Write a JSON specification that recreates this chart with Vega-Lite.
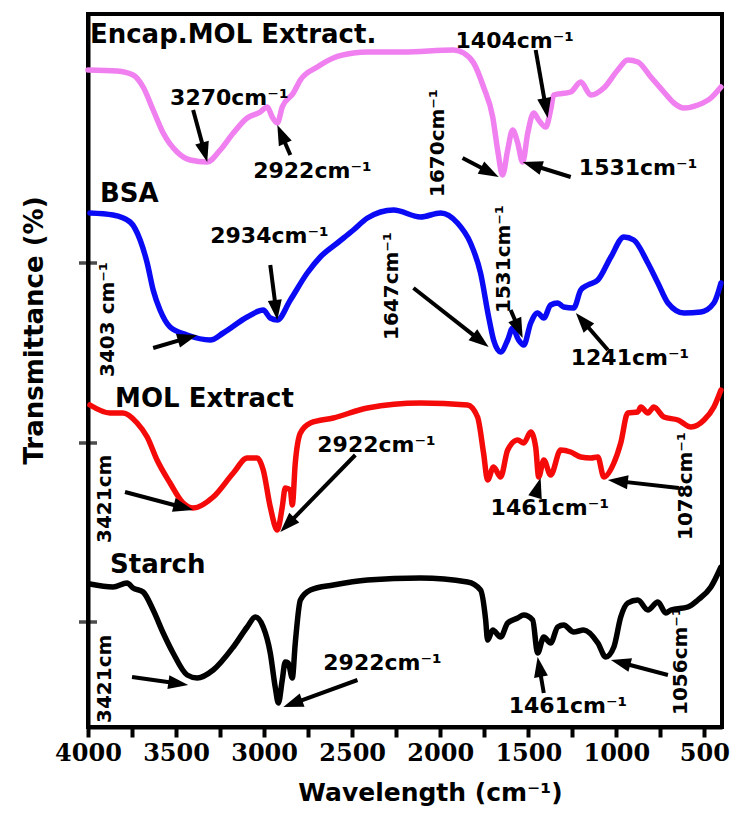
{
  "$schema": "https://vega.github.io/schema/vega-lite/v6.json",
  "width": 634,
  "height": 713,
  "autosize": {"type": "none"},
  "padding": {"left": 88, "top": 14, "right": 18, "bottom": 87},
  "background": "white",
  "config": {
    "view": {"stroke": "black", "strokeWidth": 4},
    "axis": {"grid": false, "domainColor": "black", "domainWidth": 4, "tickColor": "black"}
  },
  "datasets": {
    "spectra": [
      {"s":"Encap","wn":4000,"t":657},{"s":"Encap","wn":3835,"t":656},{"s":"Encap","wn":3744,"t":652},{"s":"Encap","wn":3687,"t":640},{"s":"Encap","wn":3630,"t":617},{"s":"Encap","wn":3573,"t":594},{"s":"Encap","wn":3494,"t":575},{"s":"Encap","wn":3420,"t":567},{"s":"Encap","wn":3323,"t":565},{"s":"Encap","wn":3249,"t":577},{"s":"Encap","wn":3175,"t":594},{"s":"Encap","wn":3096,"t":609},{"s":"Encap","wn":3022,"t":615},{"s":"Encap","wn":2982,"t":620},{"s":"Encap","wn":2954,"t":610},{"s":"Encap","wn":2925,"t":604},{"s":"Encap","wn":2897,"t":620},{"s":"Encap","wn":2834,"t":634},{"s":"Encap","wn":2794,"t":647},{"s":"Encap","wn":2698,"t":660},{"s":"Encap","wn":2607,"t":669},{"s":"Encap","wn":2493,"t":674},{"s":"Encap","wn":2413,"t":675},{"s":"Encap","wn":2209,"t":675},{"s":"Encap","wn":1924,"t":677},{"s":"Encap","wn":1867,"t":674},{"s":"Encap","wn":1810,"t":664},{"s":"Encap","wn":1754,"t":640},{"s":"Encap","wn":1702,"t":610},{"s":"Encap","wn":1674,"t":577},{"s":"Encap","wn":1646,"t":552},{"s":"Encap","wn":1617,"t":577},{"s":"Encap","wn":1589,"t":597},{"s":"Encap","wn":1560,"t":584},{"s":"Encap","wn":1532,"t":565},{"s":"Encap","wn":1503,"t":594},{"s":"Encap","wn":1469,"t":614},{"s":"Encap","wn":1441,"t":607},{"s":"Encap","wn":1401,"t":600},{"s":"Encap","wn":1373,"t":617},{"s":"Encap","wn":1356,"t":632},{"s":"Encap","wn":1259,"t":635},{"s":"Encap","wn":1202,"t":645},{"s":"Encap","wn":1145,"t":632},{"s":"Encap","wn":1071,"t":639},{"s":"Encap","wn":992,"t":657},{"s":"Encap","wn":935,"t":667},{"s":"Encap","wn":878,"t":665},{"s":"Encap","wn":804,"t":650},{"s":"Encap","wn":730,"t":635},{"s":"Encap","wn":673,"t":624},{"s":"Encap","wn":616,"t":619},{"s":"Encap","wn":537,"t":622},{"s":"Encap","wn":463,"t":629},{"s":"Encap","wn":406,"t":640},
      {"s":"BSA","wn":3989,"t":514},{"s":"BSA","wn":3858,"t":512},{"s":"BSA","wn":3761,"t":505},{"s":"BSA","wn":3704,"t":487},{"s":"BSA","wn":3664,"t":464},{"s":"BSA","wn":3630,"t":437},{"s":"BSA","wn":3591,"t":417},{"s":"BSA","wn":3534,"t":400},{"s":"BSA","wn":3437,"t":392},{"s":"BSA","wn":3306,"t":387},{"s":"BSA","wn":3232,"t":394},{"s":"BSA","wn":3096,"t":410},{"s":"BSA","wn":3005,"t":417},{"s":"BSA","wn":2965,"t":409},{"s":"BSA","wn":2925,"t":407},{"s":"BSA","wn":2851,"t":427},{"s":"BSA","wn":2755,"t":454},{"s":"BSA","wn":2681,"t":470},{"s":"BSA","wn":2584,"t":484},{"s":"BSA","wn":2493,"t":497},{"s":"BSA","wn":2413,"t":509},{"s":"BSA","wn":2265,"t":517},{"s":"BSA","wn":2112,"t":510},{"s":"BSA","wn":1998,"t":514},{"s":"BSA","wn":1902,"t":504},{"s":"BSA","wn":1828,"t":484},{"s":"BSA","wn":1771,"t":454},{"s":"BSA","wn":1725,"t":410},{"s":"BSA","wn":1697,"t":387},{"s":"BSA","wn":1657,"t":375},{"s":"BSA","wn":1617,"t":387},{"s":"BSA","wn":1589,"t":399},{"s":"BSA","wn":1555,"t":387},{"s":"BSA","wn":1526,"t":382},{"s":"BSA","wn":1486,"t":404},{"s":"BSA","wn":1447,"t":414},{"s":"BSA","wn":1412,"t":409},{"s":"BSA","wn":1373,"t":422},{"s":"BSA","wn":1333,"t":424},{"s":"BSA","wn":1299,"t":420},{"s":"BSA","wn":1242,"t":419},{"s":"BSA","wn":1202,"t":437},{"s":"BSA","wn":1162,"t":442},{"s":"BSA","wn":1105,"t":447},{"s":"BSA","wn":1031,"t":470},{"s":"BSA","wn":957,"t":490},{"s":"BSA","wn":901,"t":487},{"s":"BSA","wn":821,"t":464},{"s":"BSA","wn":764,"t":444},{"s":"BSA","wn":707,"t":424},{"s":"BSA","wn":616,"t":414},{"s":"BSA","wn":520,"t":415},{"s":"BSA","wn":446,"t":424},{"s":"BSA","wn":406,"t":444},
      {"s":"MOL","wn":3989,"t":322},{"s":"MOL","wn":3875,"t":314},{"s":"MOL","wn":3801,"t":314},{"s":"MOL","wn":3721,"t":304},{"s":"MOL","wn":3664,"t":290},{"s":"MOL","wn":3608,"t":267},{"s":"MOL","wn":3534,"t":244},{"s":"MOL","wn":3460,"t":224},{"s":"MOL","wn":3403,"t":219},{"s":"MOL","wn":3289,"t":230},{"s":"MOL","wn":3175,"t":254},{"s":"MOL","wn":3096,"t":269},{"s":"MOL","wn":3039,"t":269},{"s":"MOL","wn":3005,"t":257},{"s":"MOL","wn":2965,"t":220},{"s":"MOL","wn":2925,"t":197},{"s":"MOL","wn":2897,"t":220},{"s":"MOL","wn":2880,"t":239},{"s":"MOL","wn":2851,"t":237},{"s":"MOL","wn":2840,"t":222},{"s":"MOL","wn":2823,"t":264},{"s":"MOL","wn":2794,"t":294},{"s":"MOL","wn":2737,"t":304},{"s":"MOL","wn":2607,"t":309},{"s":"MOL","wn":2413,"t":319},{"s":"MOL","wn":2112,"t":324},{"s":"MOL","wn":1845,"t":322},{"s":"MOL","wn":1788,"t":310},{"s":"MOL","wn":1754,"t":274},{"s":"MOL","wn":1731,"t":247},{"s":"MOL","wn":1697,"t":260},{"s":"MOL","wn":1657,"t":250},{"s":"MOL","wn":1617,"t":277},{"s":"MOL","wn":1560,"t":287},{"s":"MOL","wn":1526,"t":284},{"s":"MOL","wn":1486,"t":295},{"s":"MOL","wn":1458,"t":280},{"s":"MOL","wn":1441,"t":250},{"s":"MOL","wn":1412,"t":267},{"s":"MOL","wn":1373,"t":252},{"s":"MOL","wn":1316,"t":277},{"s":"MOL","wn":1259,"t":275},{"s":"MOL","wn":1202,"t":270},{"s":"MOL","wn":1145,"t":269},{"s":"MOL","wn":1105,"t":270},{"s":"MOL","wn":1071,"t":250},{"s":"MOL","wn":1014,"t":264},{"s":"MOL","wn":975,"t":284},{"s":"MOL","wn":935,"t":314},{"s":"MOL","wn":878,"t":315},{"s":"MOL","wn":861,"t":320},{"s":"MOL","wn":821,"t":314},{"s":"MOL","wn":787,"t":320},{"s":"MOL","wn":730,"t":310},{"s":"MOL","wn":650,"t":307},{"s":"MOL","wn":576,"t":300},{"s":"MOL","wn":502,"t":307},{"s":"MOL","wn":446,"t":320},{"s":"MOL","wn":406,"t":337},
      {"s":"Starch","wn":3989,"t":143},{"s":"Starch","wn":3858,"t":140},{"s":"Starch","wn":3778,"t":144},{"s":"Starch","wn":3744,"t":139},{"s":"Starch","wn":3687,"t":135},{"s":"Starch","wn":3630,"t":117},{"s":"Starch","wn":3573,"t":94},{"s":"Starch","wn":3517,"t":74},{"s":"Starch","wn":3437,"t":52},{"s":"Starch","wn":3380,"t":49},{"s":"Starch","wn":3289,"t":57},{"s":"Starch","wn":3175,"t":80},{"s":"Starch","wn":3096,"t":100},{"s":"Starch","wn":3050,"t":110},{"s":"Starch","wn":3005,"t":100},{"s":"Starch","wn":2965,"t":74},{"s":"Starch","wn":2937,"t":40},{"s":"Starch","wn":2919,"t":24},{"s":"Starch","wn":2897,"t":47},{"s":"Starch","wn":2880,"t":65},{"s":"Starch","wn":2863,"t":64},{"s":"Starch","wn":2840,"t":49},{"s":"Starch","wn":2823,"t":84},{"s":"Starch","wn":2794,"t":127},{"s":"Starch","wn":2737,"t":137},{"s":"Starch","wn":2607,"t":142},{"s":"Starch","wn":2413,"t":147},{"s":"Starch","wn":2112,"t":149},{"s":"Starch","wn":1845,"t":145},{"s":"Starch","wn":1771,"t":137},{"s":"Starch","wn":1742,"t":107},{"s":"Starch","wn":1731,"t":87},{"s":"Starch","wn":1702,"t":97},{"s":"Starch","wn":1657,"t":90},{"s":"Starch","wn":1617,"t":104},{"s":"Starch","wn":1560,"t":109},{"s":"Starch","wn":1526,"t":112},{"s":"Starch","wn":1475,"t":107},{"s":"Starch","wn":1447,"t":74},{"s":"Starch","wn":1412,"t":90},{"s":"Starch","wn":1373,"t":84},{"s":"Starch","wn":1333,"t":100},{"s":"Starch","wn":1299,"t":102},{"s":"Starch","wn":1242,"t":95},{"s":"Starch","wn":1185,"t":97},{"s":"Starch","wn":1105,"t":84},{"s":"Starch","wn":1060,"t":70},{"s":"Starch","wn":1014,"t":80},{"s":"Starch","wn":975,"t":110},{"s":"Starch","wn":935,"t":124},{"s":"Starch","wn":878,"t":127},{"s":"Starch","wn":821,"t":117},{"s":"Starch","wn":764,"t":125},{"s":"Starch","wn":719,"t":114},{"s":"Starch","wn":690,"t":117},{"s":"Starch","wn":594,"t":120},{"s":"Starch","wn":537,"t":127},{"s":"Starch","wn":463,"t":140},{"s":"Starch","wn":406,"t":160}
    ],
    "labels": [
      {"label":"3270cm⁻¹","wn":3534,"t":622},
      {"label":"2922cm⁻¹","wn":3062,"t":549},
      {"label":"1404cm⁻¹","wn":1913,"t":679},
      {"label":"1531cm⁻¹","wn":1213,"t":552},
      {"label":"2934cm⁻¹","wn":3306,"t":484},
      {"label":"1241cm⁻¹","wn":1259,"t":362},
      {"label":"2922cm⁻¹","wn":2698,"t":275},
      {"label":"1461cm⁻¹","wn":1714,"t":212},
      {"label":"2922cm⁻¹","wn":2664,"t":57},
      {"label":"1461cm⁻¹","wn":1611,"t":14}
    ],
    "vlabels": [
      {"label":"1670cm⁻¹","wn":2015,"t":530},
      {"label":"3403 cm⁻¹","wn":3886,"t":350},
      {"label":"1647cm⁻¹","wn":2271,"t":387},
      {"label":"1531cm⁻¹","wn":1640,"t":414},
      {"label":"3421cm","wn":3903,"t":184},
      {"label":"1078cm⁻¹","wn":605,"t":187},
      {"label":"3421cm","wn":3903,"t":4},
      {"label":"1056cm⁻¹","wn":633,"t":12}
    ],
    "titles": [
      {"label":"Encap.MOL Extract.","wn":3989,"t":684},
      {"label":"BSA","wn":3932,"t":525},
      {"label":"MOL Extract","wn":3846,"t":320},
      {"label":"Starch","wn":3875,"t":154}
    ],
    "arrows": [
      {"x1":3403,"y1":617,"x2":3323,"y2":565},
      {"x1":2851,"y1":572,"x2":2925,"y2":602},
      {"x1":1458,"y1":677,"x2":1390,"y2":609},
      {"x1":1873,"y1":569,"x2":1668,"y2":550},
      {"x1":1259,"y1":550,"x2":1532,"y2":565},
      {"x1":2965,"y1":462,"x2":2925,"y2":407},
      {"x1":3630,"y1":379,"x2":3380,"y2":392},
      {"x1":2152,"y1":439,"x2":1725,"y2":380},
      {"x1":1600,"y1":417,"x2":1532,"y2":389},
      {"x1":1048,"y1":377,"x2":1230,"y2":414},
      {"x1":3790,"y1":235,"x2":3403,"y2":217},
      {"x1":2482,"y1":272,"x2":2908,"y2":195},
      {"x1":1458,"y1":232,"x2":1430,"y2":249},
      {"x1":645,"y1":239,"x2":1048,"y2":247},
      {"x1":3750,"y1":50,"x2":3431,"y2":42},
      {"x1":2470,"y1":47,"x2":2891,"y2":20},
      {"x1":1412,"y1":34,"x2":1447,"y2":70},
      {"x1":707,"y1":52,"x2":1031,"y2":67}
    ],
    "yticks": [
      {"wn":4000,"t":105},{"wn":4000,"t":284},{"wn":4000,"t":464}
    ]
  },
  "layer": [
    {
      "data": {"name": "spectra"},
      "mark": {"type": "line", "strokeWidth": 5.5, "strokeJoin": "round", "strokeCap": "round", "interpolate": "monotone"},
      "encoding": {
        "x": {
          "field": "wn", "type": "quantitative",
          "scale": {"domain": [400, 4000], "reverse": true, "nice": false, "zero": false},
          "axis": {
            "values": [4000,3750,3500,3250,3000,2750,2500,2250,2000,1750,1500,1250,1000,750,500],
            "format": "d",
            "labelExpr": "datum.value % 500 === 0 ? datum.label : ''",
            "labelFont": "DejaVu Serif", "labelFontWeight": "bold", "labelFontSize": 24,
            "labelColor": "black", "labelPadding": 4, "labelFlush": false, "labelOverlap": false,
            "tickSize": 10, "tickWidth": 4, "tickColor": "black",
            "title": "Wavelength (cm⁻¹)",
            "titleFont": "DejaVu Sans", "titleFontWeight": "bold", "titleFontSize": 25,
            "titleColor": "black", "titleX": 342, "titleY": 73, "titleBaseline": "alphabetic"
          }
        },
        "y": {
          "field": "t", "type": "quantitative",
          "scale": {"domain": [0, 713], "nice": false, "zero": false},
          "axis": {
            "labels": false, "ticks": false,
            "title": "Transmittance (%)",
            "titleFont": "DejaVu Sans", "titleFontWeight": "bold", "titleFontSize": 26,
            "titleColor": "black", "titleX": -46, "titleY": 316, "titleBaseline": "alphabetic"
          }
        },
        "color": {
          "field": "s", "type": "nominal",
          "scale": {"domain": ["Encap", "BSA", "MOL", "Starch"], "range": ["#f07ff0", "#0a0af5", "#f50a0a", "#000000"]},
          "legend": null
        }
      }
    },
    {
      "data": {"name": "yticks"},
      "mark": {"type": "tick", "orient": "horizontal", "size": 18, "thickness": 3.5, "color": "black"},
      "encoding": {
        "x": {"field": "wn", "type": "quantitative"},
        "y": {"field": "t", "type": "quantitative"}
      }
    },
    {
      "data": {"name": "arrows"},
      "transform": [
        {"calculate": "(datum.x1 - datum.x2) * 0.17583", "as": "dx"},
        {"calculate": "datum.y1 - datum.y2", "as": "dy"},
        {"calculate": "sqrt(datum.dx * datum.dx + datum.dy * datum.dy)", "as": "len"},
        {"calculate": "atan2(datum.dx, -datum.dy) * 180 / PI", "as": "ang"},
        {"calculate": "datum.x2 + 10 * datum.dx / datum.len / 0.17583", "as": "cx"},
        {"calculate": "datum.y2 + 10 * datum.dy / datum.len", "as": "cy"}
      ],
      "layer": [
        {
          "mark": {"type": "rule", "strokeWidth": 4, "color": "black"},
          "encoding": {
            "x": {"field": "x1", "type": "quantitative"},
            "y": {"field": "y1", "type": "quantitative"},
            "x2": {"field": "cx"},
            "y2": {"field": "cy"}
          }
        },
        {
          "mark": {"type": "point", "shape": "M0,-1L0.7,1L-0.7,1Z", "filled": true, "size": 400, "color": "black", "opacity": 1},
          "encoding": {
            "x": {"field": "cx", "type": "quantitative"},
            "y": {"field": "cy", "type": "quantitative"},
            "angle": {"field": "ang", "type": "quantitative", "scale": null}
          }
        }
      ]
    },
    {
      "data": {"name": "labels"},
      "mark": {"type": "text", "align": "left", "baseline": "alphabetic", "font": "DejaVu Sans", "fontWeight": "bold", "fontSize": 22, "color": "black"},
      "encoding": {
        "x": {"field": "wn", "type": "quantitative"},
        "y": {"field": "t", "type": "quantitative"},
        "text": {"field": "label"}
      }
    },
    {
      "data": {"name": "vlabels"},
      "mark": {"type": "text", "align": "left", "baseline": "middle", "angle": 270, "font": "DejaVu Sans", "fontWeight": "bold", "fontSize": 20, "color": "black"},
      "encoding": {
        "x": {"field": "wn", "type": "quantitative"},
        "y": {"field": "t", "type": "quantitative"},
        "text": {"field": "label"}
      }
    },
    {
      "data": {"name": "titles"},
      "mark": {"type": "text", "align": "left", "baseline": "alphabetic", "font": "DejaVu Sans", "fontWeight": "bold", "fontSize": 26, "color": "black"},
      "encoding": {
        "x": {"field": "wn", "type": "quantitative"},
        "y": {"field": "t", "type": "quantitative"},
        "text": {"field": "label"}
      }
    }
  ]
}
